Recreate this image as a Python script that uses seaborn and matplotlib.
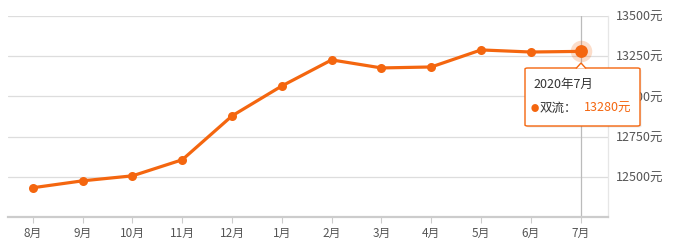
import matplotlib
matplotlib.use("Agg")
import matplotlib.pyplot as plt
import seaborn as sns
import pandas as pd
from matplotlib.patches import FancyBboxPatch, Polygon

sns.set_theme(style="white")
plt.rcParams['font.family'] = ['Noto Sans CJK SC', 'DejaVu Sans']

months = ["8月", "9月", "10月", "11月", "12月", "1月", "2月", "3月", "4月", "5月", "6月", "7月"]
prices = [12432, 12475, 12506, 12606, 12879, 13065, 13227, 13177, 13183, 13289, 13276, 13280]
yticks = [12500, 12750, 13000, 13250, 13500]
ytick_labels = ["12500元", "12750元", "13000元", "13250元", "13500元"]
tip_title = "2020年7月"
tip_series = "双流："
tip_value = "13280元"

orange = "#f4660f"

df = pd.DataFrame({"x": range(len(months)), "price": prices})

fig = plt.figure(figsize=(6.75, 2.49), dpi=100)
ax = fig.add_axes([8/675, (249-217)/249, 600/675, (217-16)/249])

# crosshair
ax.axvline(len(months)-1, color="#bbbbbb", lw=0.9, zorder=1)

sns.lineplot(data=df, x="x", y="price", ax=ax, color=orange, lw=2.3,
             marker="o", markersize=6.5, markeredgewidth=0, zorder=3)
# highlighted last point
ax.scatter([df["x"].iloc[-1]], [df["price"].iloc[-1]], s=240, color=orange, alpha=0.22, lw=0, zorder=4)
ax.scatter([df["x"].iloc[-1]], [df["price"].iloc[-1]], s=85, color=orange, lw=0, zorder=5)

ax.set_xlim(-0.5, len(months)-0.45)
ax.set_ylim(12250, 13500)
ax.set_xticks(range(len(months)))
ax.set_xticklabels(months, fontsize=8.5, color="#555555")
ax.yaxis.tick_right()
ax.set_yticks(yticks)
ax.set_yticklabels(ytick_labels, fontsize=9, color="#555555")
ax.tick_params(axis="y", length=0, pad=6)
ax.tick_params(axis="x", length=4, width=0.8, color="#cccccc", pad=3, bottom=True)
ax.grid(axis="y", color="#dddddd", lw=0.9)
ax.set_xlabel("")
ax.set_ylabel("")
for s in ["top", "left"]:
    ax.spines[s].set_visible(False)
ax.spines["right"].set_color("#e6e6e6")
ax.spines["right"].set_linewidth(0.9)
ax.spines["bottom"].set_color("#cccccc")
ax.spines["bottom"].set_linewidth(1.6)

# tooltip
bx0, by0, bw, bh = 525/675, 1-126/249, 115/675, 58/249
shadow = FancyBboxPatch((bx0+1.5/675, by0-1.5/249), bw, bh, boxstyle="round,pad=0,rounding_size=0.004",
                        transform=fig.transFigure, facecolor="#000000", alpha=0.08,
                        lw=0, zorder=9)
fig.patches.append(shadow)
box = FancyBboxPatch((bx0, by0), bw, bh, boxstyle="round,pad=0,rounding_size=0.004",
                     transform=fig.transFigure, facecolor="white", edgecolor=orange,
                     lw=1.0, zorder=10)
fig.patches.append(box)
notch = Polygon([(576/675, 1-68.5/249), (581/675, 1-63/249), (586/675, 1-68.5/249)],
                closed=False, transform=fig.transFigure, facecolor="white",
                edgecolor=orange, lw=1.0, zorder=11)
fig.patches.append(notch)
fig.text(533/675, 1-84/249, tip_title, fontsize=9, color="#333333", va="center", ha="left", zorder=12)
fig.text(531/675, 1-108/249, "●", fontsize=6, color=orange, va="center", ha="left", zorder=12)
fig.text(540/675, 1-108/249, tip_series, fontsize=9, color="#333333", va="center", ha="left", zorder=12)
fig.text(584/675, 1-108/249, tip_value, fontsize=9, color=orange, va="center", ha="left", zorder=12)

fig.savefig("out.png", dpi=100)
